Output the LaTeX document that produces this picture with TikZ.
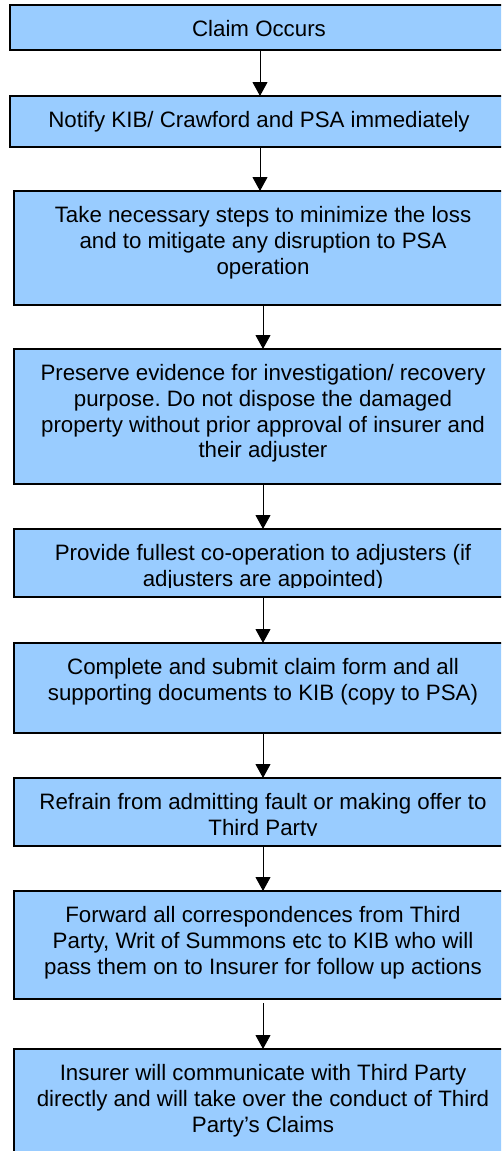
\documentclass[tikz,border=0pt]{standalone}
\usepackage{fontspec}
\setmainfont{Liberation Sans}
\usetikzlibrary{arrows.meta,calc}
\definecolor{boxblue}{HTML}{99CCFF}
\tikzset{
  box/.style={draw=black, line width=1.2pt, fill=boxblue, rectangle, anchor=north west,
    minimum width=498pt, inner sep=0pt, outer sep=0pt},
  txt/.style={anchor=north, inner sep=0pt, align=center, font=\fontsize{22.3}{25.9}\selectfont\frenchspacing},
  arr/.style={line width=1pt, -{Triangle[length=14pt,width=15pt]}}
}
\newcommand{\fst}{\rule{0pt}{20pt}}
\begin{document}
\begin{tikzpicture}[x=1pt,y=-1pt]
\useasboundingbox (0,0) rectangle (501,1151);
\clip (0,0) rectangle (501,1151);
\node[box, minimum height=45pt] (b1) at (10,5) {};
\node[box, minimum height=51pt] (b2) at (10,96) {};
\node[box, minimum height=114pt] (b3) at (14,191) {};
\node[box, minimum height=135pt] (b4) at (14,349) {};
\node[box, minimum height=68pt] (b5) at (14,529) {};
\node[box, minimum height=90pt] (b6) at (14,643) {};
\node[box, minimum height=68pt] (b7) at (14,778) {};
\node[box, minimum height=108pt] (b8) at (14,891) {};
\node[box, minimum height=130pt] (b9) at (14,1049) {};

\node[txt] (t1) at ($(b1.north)+(0,11)$) {\fst Claim Occurs};
\node[txt] (t2) at ($(b2.north)+(0,11)$) {\fst Notify KIB/ Crawford and PSA immediately};
\node[txt] (t3) at ($(b3.north)+(0,11)$) {\fst Take necessary steps to minimize the loss\\and to mitigate any disruption to PSA\\operation};
\node[txt] (t4) at ($(b4.north)+(0,11)$) {\fst Preserve evidence for investigation/ recovery\\purpose. Do not dispose the damaged\\property without prior approval of insurer and\\their adjuster};
\begin{scope}
\clip (b5.north west) rectangle ($(b5.north east)+(0,58)$);
\node[txt] (t5) at ($(b5.north)+(0,11)$) {\fst Provide fullest co-operation to adjusters (if\\adjusters are appointed)};
\end{scope}
\node[txt] (t6) at ($(b6.north)+(0,11)$) {\fst Complete and submit claim form and all\\supporting documents to KIB (copy to PSA)};
\begin{scope}
\clip (b7.north west) rectangle ($(b7.north east)+(0,57.5)$);
\node[txt] (t7) at ($(b7.north)+(0,11)$) {\fst Refrain from admitting fault or making offer to\\Third Party};
\end{scope}
\node[txt] (t8) at ($(b8.north)+(0,11)$) {\fst Forward all correspondences from Third\\Party, Writ of Summons etc to KIB who will\\pass them on to Insurer for follow up actions};
\node[txt] (t9) at ($(b9.north)+(0,11)$) {\fst Insurer will communicate with Third Party\\directly and will take over the conduct of Third\\Party’s Claims};

\draw[arr] ([xshift=1pt]b1.south) -- ([xshift=1pt]b2.north);
\draw[arr] ([xshift=1pt]b2.south) -- ([xshift=1pt]b2.south |- b3.north);
\draw[arr] (b3.south) -- (b4.north);
\draw[arr] (b4.south) -- (b5.north);
\draw[arr] (b5.south) -- (b6.north);
\draw[arr] (b6.south) -- (b7.north);
\draw[arr] (b7.south) -- (b8.north);
\draw[arr] ([yshift=-4pt]b8.south) -- (b9.north);
\end{tikzpicture}
\end{document}
